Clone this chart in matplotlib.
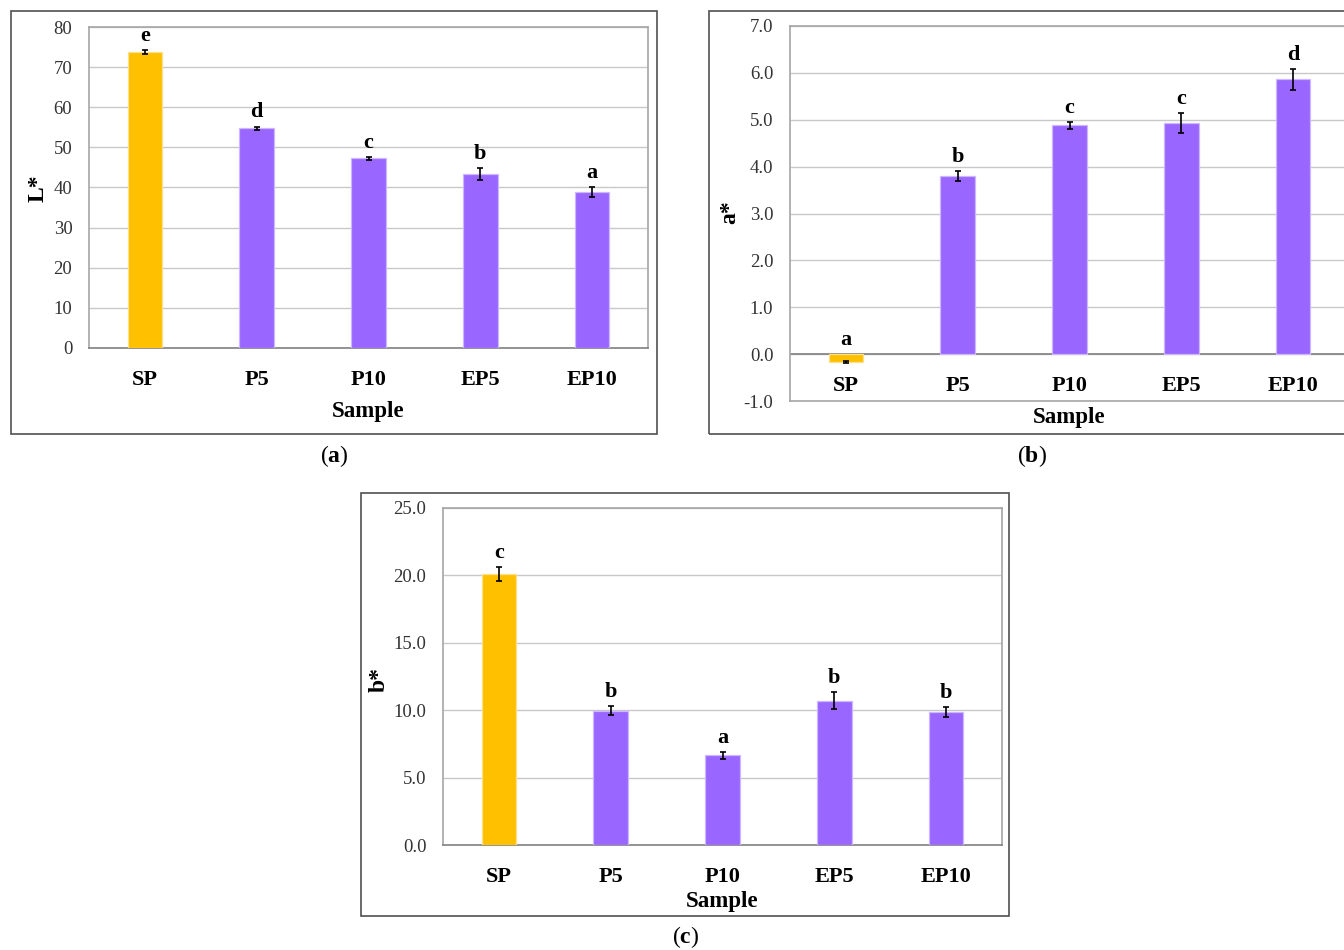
import matplotlib
matplotlib.use("Agg")
import matplotlib.pyplot as plt
import matplotlib.patches as mpatches

plt.rcParams['font.family'] = ['Liberation Serif', 'DejaVu Serif']
plt.rcParams['mathtext.fontset'] = 'custom'
plt.rcParams['mathtext.rm'] = 'Liberation Serif'
plt.rcParams['mathtext.bf'] = 'Liberation Serif:bold'

# Colour measurements per sample
samples = ['SP', 'P5', 'P10', 'EP5', 'EP10']

L_mean = [73.8, 54.8, 47.3, 43.3, 38.9]
L_err = [0.5, 0.4, 0.4, 1.5, 1.3]
L_letters = ['e', 'd', 'c', 'b', 'a']

a_mean = [-0.16, 3.80, 4.88, 4.93, 5.86]
a_err = [0.02, 0.11, 0.07, 0.21, 0.23]
a_letters = ['a', 'b', 'c', 'c', 'd']

b_mean = [20.1, 9.95, 6.64, 10.7, 9.88]
b_err = [0.52, 0.33, 0.25, 0.62, 0.37]
b_letters = ['c', 'b', 'a', 'b', 'b']

GOLD = '#FFC000'
PURPLE = '#9966FF'
GOLD_EDGE = '#FFE08A'
PURPLE_EDGE = '#CDB8FF'
GRID = '#C8C8C8'
SPINE = '#A6A6A6'
AXIS = '#808080'
TXT = '#333333'

W, H = 1344, 950
fig = plt.figure(figsize=(W / 100, H / 100), dpi=100)


def px_axes(x0, y0, x1, y1):
    # pixel box (top-left origin) -> figure axes
    return fig.add_axes([x0 / W, 1 - y1 / H, (x1 - x0) / W, (y1 - y0) / H])


def px_text(x, y, s, **kw):
    fig.text(x / W, 1 - y / H, s, ha='center', va='center', **kw)


def frame(x0, y0, x1, y1):
    fig.patches.append(mpatches.Rectangle((x0 / W, 1 - y1 / H), (x1 - x0) / W, (y1 - y0) / H,
                                          transform=fig.transFigure, fill=False,
                                          edgecolor='#505050', linewidth=1.2))


def panel(ax, means, errs, letters, ylim, step, fmt, cat_at_zero=False):
    x = list(range(len(samples)))
    colors = [GOLD] + [PURPLE] * (len(samples) - 1)
    edges = [GOLD_EDGE] + [PURPLE_EDGE] * (len(samples) - 1)
    ax.bar(x, means, width=0.31, color=colors, edgecolor=edges, linewidth=0.9, zorder=3)
    ax.errorbar(x, means, yerr=errs, fmt='none', ecolor='black', elinewidth=1.2,
                capsize=2.5, capthick=1.2, zorder=4)
    for xi, m, e, lt in zip(x, means, errs, letters):
        top = max(m + e, 0)
        ax.annotate(lt, (xi, top), xytext=(0, 6.5), textcoords='offset points',
                    ha='center', va='baseline', fontsize=16, fontweight='bold', color='black')

    ax.set_xlim(-0.5, len(samples) - 0.5)
    ax.set_ylim(*ylim)
    ticks = []
    t = ylim[0]
    while t <= ylim[1] + 1e-9:
        ticks.append(round(t, 6))
        t += step
    ax.set_yticks(ticks)
    ax.set_yticklabels([fmt.format(v) for v in ticks], fontsize=13.5, color=TXT)
    ax.tick_params(axis='y', length=0, pad=12)
    ax.yaxis.grid(True, color=GRID, linewidth=1, zorder=0)
    ax.set_axisbelow(True)

    for s in ['left', 'top', 'right']:
        ax.spines[s].set_color(SPINE)
        ax.spines[s].set_linewidth(1.2)
    ax.spines['bottom'].set_color(AXIS if not cat_at_zero else SPINE)
    ax.spines['bottom'].set_linewidth(1.2)

    if cat_at_zero:
        ax.axhline(0, color=AXIS, linewidth=1.2, zorder=2)
        ax.set_xticks([])
        for xi, s in zip(x, samples):
            ax.annotate(s, (xi, 0), xytext=(0, -23), textcoords='offset points',
                        ha='center', va='center', fontsize=16, fontweight='bold', color='black')
    else:
        ax.set_xticks(x)
        ax.set_xticklabels(samples, fontsize=16, fontweight='bold')
        ax.tick_params(axis='x', length=0, pad=16)


lab = dict(fontsize=16.5, fontweight='bold')
ylab = dict(fontsize=17, fontweight='bold', rotation=90)
cap = dict(fontsize=17)

# (a) L*
frame(11, 11, 657, 434)
ax_a = px_axes(89, 27, 648, 348)
panel(ax_a, L_mean, L_err, L_letters, (0, 80), 10, '{:.0f}')
px_text(38, 188, 'L*', **ylab)
px_text(368.5, 411, 'Sample', **lab)
px_text(334, 456, r'($\mathbf{a}$)', **cap)

# (b) a*
frame(709, 11, 1360, 434)
ax_b = px_axes(790, 26, 1349, 401)
panel(ax_b, a_mean, a_err, a_letters, (-1.0, 7.0), 1.0, '{:.1f}', cat_at_zero=True)
px_text(730, 212, 'a*', **ylab)
px_text(1069.5, 418, 'Sample', **lab)
px_text(1032, 456, r'($\mathbf{b}$)', **cap)

# (c) b*
frame(361, 493, 1009, 916)
ax_c = px_axes(443, 508, 1002, 845)
panel(ax_c, b_mean, b_err, b_letters, (0, 25), 5.0, '{:.1f}')
px_text(379, 680, 'b*', **ylab)
px_text(722, 902, 'Sample', **lab)
px_text(686, 937, r'($\mathbf{c}$)', **cap)

fig.savefig('out.png', dpi=100)
